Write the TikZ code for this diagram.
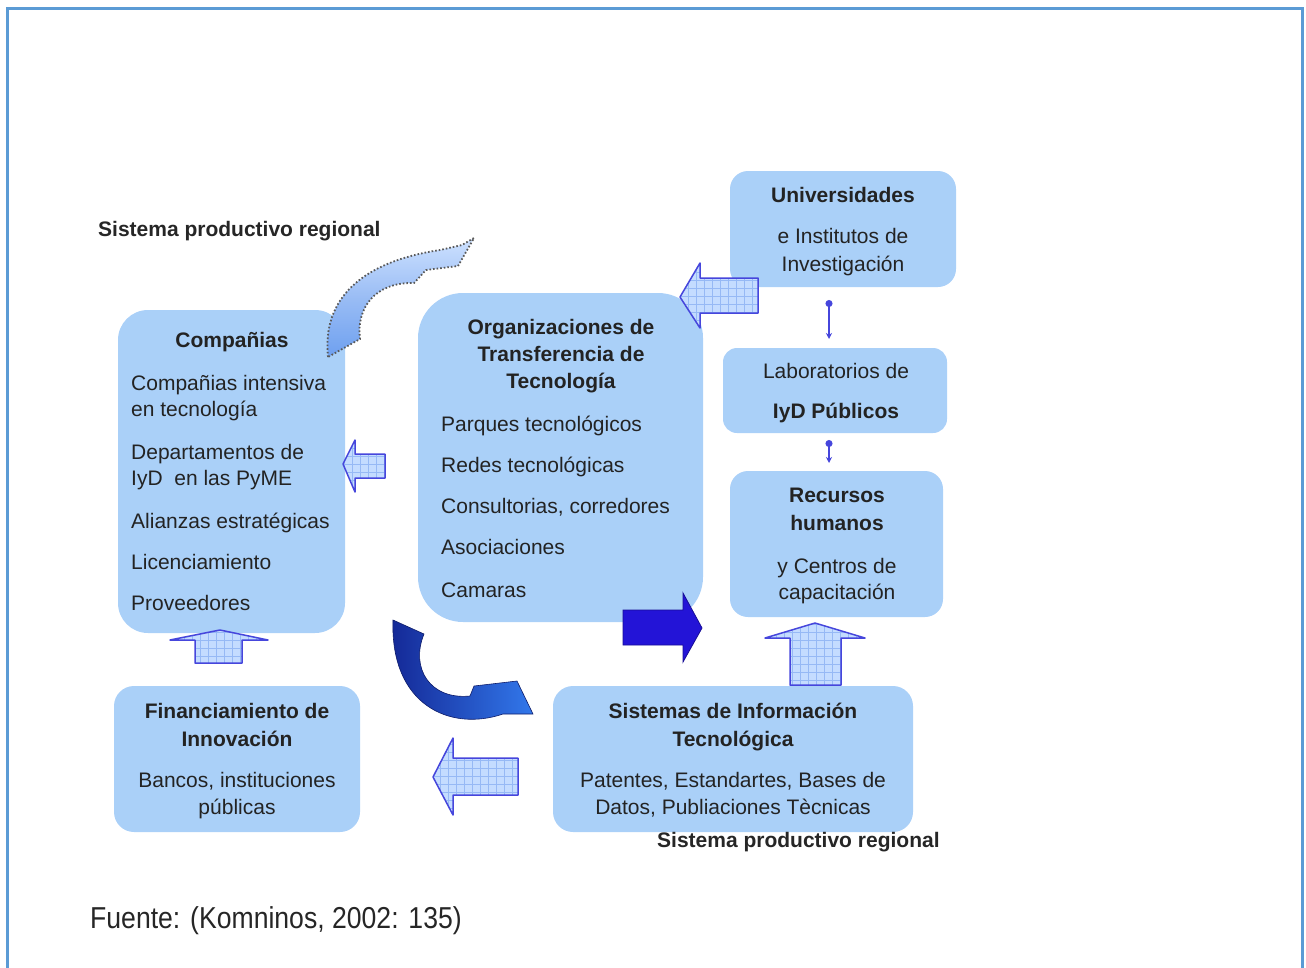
\documentclass[tikz,border=0pt]{standalone}
\usepackage{fontspec}
\setmainfont{Liberation Sans}
\usetikzlibrary{arrows.meta}
\definecolor{boxfill}{RGB}{170,208,248}
\definecolor{framec}{RGB}{91,155,213}
\definecolor{arrline}{RGB}{70,70,220}
\definecolor{arrfill}{RGB}{196,220,255}
\definecolor{gridc}{RGB}{150,185,245}
\definecolor{darkarrow}{RGB}{35,20,215}
\definecolor{curvedark}{RGB}{20,40,150}
\definecolor{curvelight}{RGB}{50,120,235}
\definecolor{txtc}{RGB}{35,35,35}
\definecolor{dashblue}{RGB}{110,160,240}
\definecolor{dashlight}{RGB}{205,225,255}
\begin{document}
\begin{tikzpicture}[x=1pt,y=-1pt,
  box/.style={fill=boxfill, draw=none, rounded corners=#1, inner sep=0pt},
  box/.default=20,
  tl/.style={font=\fontsize{21}{26}\selectfont, text=txtc, inner sep=0pt, anchor=base west},
  tc/.style={font=\fontsize{21}{26}\selectfont, text=txtc, inner sep=0pt, anchor=base},
  tb/.style={font=\fontsize{21}{26}\selectfont\bfseries, text=txtc, inner sep=0pt, anchor=base},
  tbl/.style={font=\fontsize{21}{26}\selectfont\bfseries, text=black!85, inner sep=0pt, anchor=base west},
  hatcharrow/.style={draw=arrline, line width=1.5pt, fill=arrfill, line join=round,
    path picture={\draw[gridc, line width=0.6pt] (path picture bounding box.south west) grid[step=8pt] (path picture bounding box.north east);}},
  dotconn/.style={draw=arrline, line width=1.2pt, {Circle[length=7pt]}-{Stealth[length=6pt,width=6pt]}},
]
\useasboundingbox (0,0) rectangle (1306,967);
% frame
\draw[framec, line width=3pt] (7,970) -- (7,8) -- (1302,8) -- (1302,970);

% boxes
\node[box=30, minimum width=227pt, minimum height=323pt] (comp) at (231.5,471.5) {};
\node[box=45, minimum width=285pt, minimum height=329pt] (org) at (560.5,457.5) {};
\node[box=18, minimum width=226pt, minimum height=116pt] (univ) at (843,229) {};
\node[box=14, minimum width=224pt, minimum height=85pt] (lab) at (835,390.5) {};
\node[box=18, minimum width=213pt, minimum height=146pt] (rec) at (836.5,544) {};
\node[box=20, minimum width=246pt, minimum height=146pt] (fin) at (237,759) {};
\node[box=20, minimum width=360pt, minimum height=146pt] (sis) at (733,759) {};

% Compañias text
\node[tb] (c0) at (232,347) {Compañias};
\node[tl] (c1) at (131,390) {Compañias intensiva};
\node[tl] (c2) at (131,416) {en tecnología};
\node[tl] (c3) at (131,459) {Departamentos de};
\node[tl] (c4) at (131,485) {IyD\ \ en las PyME};
\node[tl] (c5) at (131,528) {Alianzas estratégicas};
\node[tl] (c6) at (131,569) {Licenciamiento};
\node[tl] (c7) at (131,610) {Proveedores};

% Organizaciones text
\node[tb] (o0) at (561,334) {Organizaciones de};
\node[tb] (o1) at (561,361) {Transferencia de};
\node[tb] (o2) at (561,388) {Tecnología};
\node[tl] (o3) at (441,431) {Parques tecnológicos};
\node[tl] (o4) at (441,472) {Redes tecnológicas};
\node[tl] (o5) at (441,513) {Consultorias, corredores};
\node[tl] (o6) at (441,554) {Asociaciones};
\node[tl] (o7) at (441,597) {Camaras};

% Universidades
\node[tb] (u0) at (843,202) {Universidades};
\node[tc] (u1) at (843,243) {e Institutos de};
\node[tc] (u2) at (843,271) {Investigación};

% Laboratorios
\node[tc] (l0) at (836,378) {Laboratorios de};
\node[tb] (l1) at (836,418) {IyD Públicos};

% Recursos
\node[tb] (r0) at (837,502) {Recursos};
\node[tb] (r1) at (837,530) {humanos};
\node[tc] (r2) at (837,573) {y Centros de};
\node[tc] (r3) at (837,599) {capacitación};

% Financiamiento
\node[tb] (f0) at (237,718) {Financiamiento de};
\node[tb] (f1) at (237,746) {Innovación};
\node[tc] (f2) at (237,787) {Bancos, instituciones};
\node[tc] (f3) at (237,814) {públicas};

% Sistemas
\node[tb] (s0) at (733,718) {Sistemas de Información};
\node[tb] (s1) at (733,746) {Tecnológica};
\node[tc] (s2) at (733,787) {Patentes, Estandartes, Bases de};
\node[tc] (s3) at (733,814) {Datos, Publiaciones Tècnicas};

% labels
\node[tbl] (lab1) at (98,236) {Sistema productivo regional};
\node[tbl] (lab2) at (657,847) {Sistema productivo regional};
\node[font=\fontsize{27}{30}\selectfont, text=black!85, inner sep=0pt, anchor=base west] (src) at (90,928) {\scalebox{0.985}[1.12]{Fuente: (Komninos, 2002: 135)}};

% hatched arrows
\draw[hatcharrow] (758,278) -- (700,278) -- (700,263) -- (680,297) -- (700,328) -- (700,313) -- (758,313) -- cycle;
\draw[hatcharrow] (385,454) -- (355,454) -- (355,440) -- (343,464) -- (355,492) -- (355,478) -- (385,478) -- cycle;
\draw[hatcharrow] (195,663) -- (195,640) -- (170,640) -- (220,630) -- (268,640) -- (242,640) -- (242,663) -- cycle;
\draw[hatcharrow] (790,685) -- (790,638) -- (765,638) -- (815,623) -- (865,638) -- (841,638) -- (841,685) -- cycle;
\draw[hatcharrow] (518,758) -- (453,758) -- (453,738) -- (433,777) -- (453,815) -- (453,795) -- (518,795) -- cycle;

% solid dark arrow
\draw[fill=darkarrow, draw=darkarrow!70!black, line width=0.8pt, line join=miter]
  (623,610) -- (683,610) -- (683,593) -- (702,628) -- (683,662) -- (683,645) -- (623,645) -- cycle;

% curved dark arrow
\shadedraw[left color=curvedark, right color=curvelight, draw=curvedark!70!black, line width=0.6pt]
  (393,620) -- (424,634) .. controls (410,668) and (430,700) .. (470,696)
  -- (474,686) -- (517,681) -- (533,714) -- (503,714)
  .. controls (450,732) and (390,705) .. (393,620) -- cycle;

% dashed curved arrow
\shadedraw[top color=dashlight, bottom color=dashblue, middle color=dashblue!70!white, draw=black!65, dash pattern=on 1.6pt off 2pt, line width=1.8pt]
  (328,357) .. controls (322,300) and (360,262) .. (440,250)
  -- (462,245) -- (474,238) -- (458,266) -- (426,270) -- (414,283)
  .. controls (375,282) and (356,308) .. (360,339) -- cycle;

% dotted connectors
\coordinate (d1) at (829,300);
\coordinate (d1e) at (829,339);
\coordinate (d2) at (829,440);
\coordinate (d2e) at (829,463);
\draw[dotconn] (d1) -- (d1e);
\draw[dotconn] (d2) -- (d2e);
\end{tikzpicture}
\end{document}
